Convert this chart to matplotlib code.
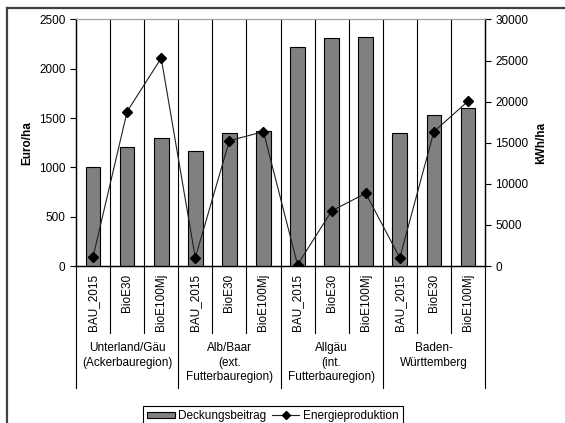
import matplotlib
matplotlib.use("Agg")
import matplotlib.pyplot as plt
import matplotlib.transforms as mtransforms
from matplotlib.lines import Line2D
import numpy as np

plt.rcParams["font.family"] = ["Liberation Sans", "DejaVu Sans"]
plt.rcParams["font.size"] = 8.5

scenarios = ["BAU_2015", "BioE30", "BioE100Mj"]
regions = [
    "Unterland/Gäu\n(Ackerbauregion)",
    "Alb/Baar\n(ext.\nFutterbauregion)",
    "Allgäu\n(int.\nFutterbauregion)",
    "Baden-\nWürttemberg",
]
# Deckungsbeitrag in Euro/ha, per region in scenario order
deckungsbeitrag = [1000, 1205, 1300, 1170, 1345, 1370, 2225, 2310, 2320, 1345, 1530, 1600]
# Energieproduktion in kWh/ha
energie = [1100, 18800, 25300, 1000, 15250, 16350, 150, 6700, 8850, 1000, 16350, 20050]

W, H = 565, 423
fig = plt.figure(figsize=(W / 100, H / 100), dpi=100)

left, right, top, bottom = 76, 485, 19.5, 266
ax = fig.add_axes([left / W, 1 - bottom / H, (right - left) / W, (bottom - top) / H])
ax2 = ax.twinx()

x = np.arange(len(deckungsbeitrag))
bars = ax.bar(x, deckungsbeitrag, width=0.43, color="#808080", edgecolor="black",
              linewidth=0.8, zorder=3, label="Deckungsbeitrag")
line, = ax2.plot(x, energie, color="#202020", linewidth=0.8, marker="D", markersize=5.5,
                 markerfacecolor="black", markeredgecolor="black", label="Energieproduktion")

ax.set_xlim(-0.5, len(x) - 0.5)
ax.set_ylim(0, 2500)
ax.set_yticks(np.arange(0, 2501, 500))
ax2.set_ylim(0, 30000)
ax2.set_yticks(np.arange(0, 30001, 5000))
ax.set_xticks([])

for a in (ax, ax2):
    a.tick_params(axis="y", direction="out", length=4, width=0.8, color="black", pad=3.5)
    a.spines["top"].set_color("#a0a0a0")
    a.spines["top"].set_linewidth(0.8)
    for s in ("left", "right", "bottom"):
        a.spines[s].set_linewidth(0.9)
        a.spines[s].set_color("black")

ax.set_ylabel("Euro/ha", fontweight="bold", labelpad=4)
ax2.set_ylabel("kWh/ha", fontweight="bold", labelpad=4.5)

# vertical lines between categories inside the plot
for b in np.arange(0.5, len(x) - 0.5, 1):
    ax.axvline(b, color="black", linewidth=0.8, zorder=1)

# separators and labels below the axis
trans = mtransforms.blended_transform_factory(ax.transData, ax.transAxes)
ax_h = bottom - top
tick_low = -(332.7 - bottom) / ax_h
group_low = -(388 - bottom) / ax_h
for b in np.arange(-0.5, len(x), 1):
    is_group = int(round(b + 0.5)) % 3 == 0
    ax.plot([b, b], [0, group_low if is_group else tick_low], transform=trans,
            color="black", linewidth=0.8, clip_on=False)

for i in x:
    ax.text(i, -(274 - bottom) / ax_h, scenarios[i % 3], transform=trans, rotation=90,
            ha="center", va="top", fontsize=8.5)

for g, name in enumerate(regions):
    ax.text(g * 3 + 1, -(342 - bottom) / ax_h, name, transform=trans, ha="center",
            va="top", fontsize=8.5, linespacing=1.3)

# outer chart frame (clipped at right and bottom)
fig.add_artist(Line2D([7 / W, 1], [1 - 8 / H, 1 - 8 / H], color="#404040", linewidth=1.6))
fig.add_artist(Line2D([7 / W, 7 / W], [0, 1 - 8 / H], color="#404040", linewidth=1.6))

leg = fig.legend([bars, line], ["Deckungsbeitrag", "Energieproduktion"], ncol=2,
                 loc="upper center", bbox_to_anchor=(273 / W, 1 - 406 / H),
                 frameon=True, fancybox=False, edgecolor="black", framealpha=1,
                 fontsize=8.5, handlelength=2.3, handleheight=0.45, handletextpad=0.3,
                 columnspacing=0.5, borderpad=0.35, borderaxespad=0, markerscale=0.8)
leg.get_frame().set_linewidth(0.8)

fig.savefig("out.png", dpi=100)
